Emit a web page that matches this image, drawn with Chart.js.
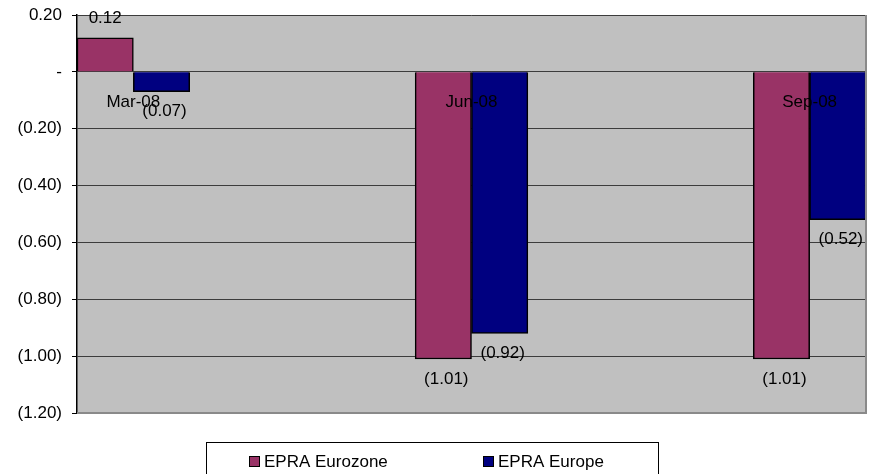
<!DOCTYPE html>
<html>
<head>
<meta charset="utf-8">
<script src="https://cdn.jsdelivr.net/npm/chart.js@4/dist/chart.umd.min.js"></script>
<style>
  html, body { margin: 0; padding: 0; background: #fff; }
  #wrap { width: 872px; height: 474px; }
</style>
</head>
<body>
<div id="wrap"><canvas id="epraChart" width="872" height="474"></canvas></div>
<script>
// quarter labels (monthly slots, only quarter ends are labelled)
var months = ['Mar-08', '', '', 'Jun-08', '', '', 'Sep-08'];

var seriesNames = ['EPRA Eurozone', 'EPRA Europe'];
var eurozone = [0.12, null, null, -1.01, null, null, -1.01];
var europe = [-0.07, null, null, -0.92, null, null, -0.52];

var seriesColors = ['#993366', '#000080'];

var FONT = "'Liberation Sans', Arial, sans-serif";
var FONT_SIZE = 17;

function fmt(v) {
    var r = Math.round(v * 100) / 100;
    if (r === 0) return '-';
    if (r < 0) return '(' + Math.abs(r).toFixed(2) + ')';
    return r.toFixed(2);
}

// grey plot background and shadow-like right/bottom border
var plotArea = {
    id: 'plotArea',
    beforeDraw: function(chart) {
        var a = chart.chartArea, ctx = chart.ctx;
        ctx.save();
        ctx.fillStyle = '#C0C0C0';
        ctx.fillRect(a.left, a.top, a.right - a.left, a.bottom - a.top);
        ctx.restore();
    },
    afterDraw: function(chart) {
        var a = chart.chartArea, ctx = chart.ctx;
        ctx.save();
        ctx.strokeStyle = '#8a8a8a';
        ctx.lineWidth = 2;
        ctx.beginPath();
        ctx.moveTo(a.left, a.bottom);
        ctx.lineTo(a.right, a.bottom);
        ctx.lineTo(a.right, a.top);
        ctx.stroke();
        ctx.restore();
    }
};

// value labels outside the end of each bar
var valueLabels = {
    id: 'valueLabels',
    afterDatasetsDraw: function(chart) {
        var ctx = chart.ctx;
        ctx.save();
        ctx.font = FONT_SIZE + 'px ' + FONT;
        ctx.fillStyle = '#000';
        ctx.textAlign = 'center';
        ctx.textBaseline = 'middle';
        chart.data.datasets.forEach(function(ds, i) {
            var meta = chart.getDatasetMeta(i);
            meta.data.forEach(function(bar, j) {
                var v = ds.data[j];
                if (v == null) return;
                if (v >= 0) {
                    ctx.fillText(fmt(v), bar.x, bar.y - 19);
                } else {
                    ctx.fillText(fmt(v), bar.x + 3, bar.y + 20);
                }
            });
        });
        ctx.restore();
    }
};

// boxed legend below the plot
var boxLegend = {
    id: 'boxLegend',
    afterDraw: function(chart) {
        var ctx = chart.ctx;
        var itemX = [249, 483];
        ctx.save();
        ctx.strokeStyle = '#000';
        ctx.lineWidth = 1;
        ctx.strokeRect(206.5, 442.5, 452, 40);
        ctx.font = FONT_SIZE + 'px ' + FONT;
        ctx.textBaseline = 'middle';
        ctx.textAlign = 'left';
        chart.data.datasets.forEach(function(ds, i) {
            ctx.fillStyle = ds.backgroundColor;
            ctx.fillRect(itemX[i], 456, 11, 11);
            ctx.strokeRect(itemX[i] + 0.5, 456.5, 10, 10);
            ctx.fillStyle = '#000';
            ctx.fillText(ds.label, itemX[i] + 15, 462);
        });
        ctx.restore();
    }
};

var ctx = document.getElementById('epraChart');

var chart = new Chart(ctx, {
    type: 'bar',
    data: {
        labels: months,
        datasets: [
            {
                label: seriesNames[0],
                data: eurozone,
                backgroundColor: seriesColors[0],
                borderColor: '#000',
                borderWidth: 1.5,
                barPercentage: 1,
                categoryPercentage: 1
            },
            {
                label: seriesNames[1],
                data: europe,
                backgroundColor: seriesColors[1],
                borderColor: '#000',
                borderWidth: 1.5,
                barPercentage: 1,
                categoryPercentage: 1
            }
        ]
    },
    options: {
        responsive: false,
        animation: false,
        layout: {
            padding: { left: 0, right: 6, top: 15, bottom: 61 }
        },
        scales: {
            x: {
                position: { y: 0 },
                grid: { display: false, drawTicks: false },
                border: { display: false },
                ticks: {
                    z: 1, // labels sit on top of the bars
                    autoSkip: false,
                    maxRotation: 0,
                    padding: 20,
                    color: '#000',
                    font: { family: FONT, size: FONT_SIZE }
                }
            },
            y: {
                min: -1.2,
                max: 0.2,
                afterFit: function(scale) {
                    scale.width = 77;
                    scale.paddingTop = 0;
                    scale.paddingBottom = 0;
                },
                grid: {
                    color: '#3c3c3c',
                    lineWidth: 1,
                    tickLength: 5,
                    tickColor: '#000'
                },
                border: { display: true, color: '#000', width: 1.5 },
                ticks: {
                    stepSize: 0.2,
                    padding: 10,
                    color: '#000',
                    font: { family: FONT, size: FONT_SIZE },
                    callback: function(v) { return fmt(v); }
                }
            }
        },
        plugins: {
            legend: { display: false },
            tooltip: { enabled: false }
        }
    },
    plugins: [plotArea, valueLabels, boxLegend]
});
</script>
</body>
</html>
